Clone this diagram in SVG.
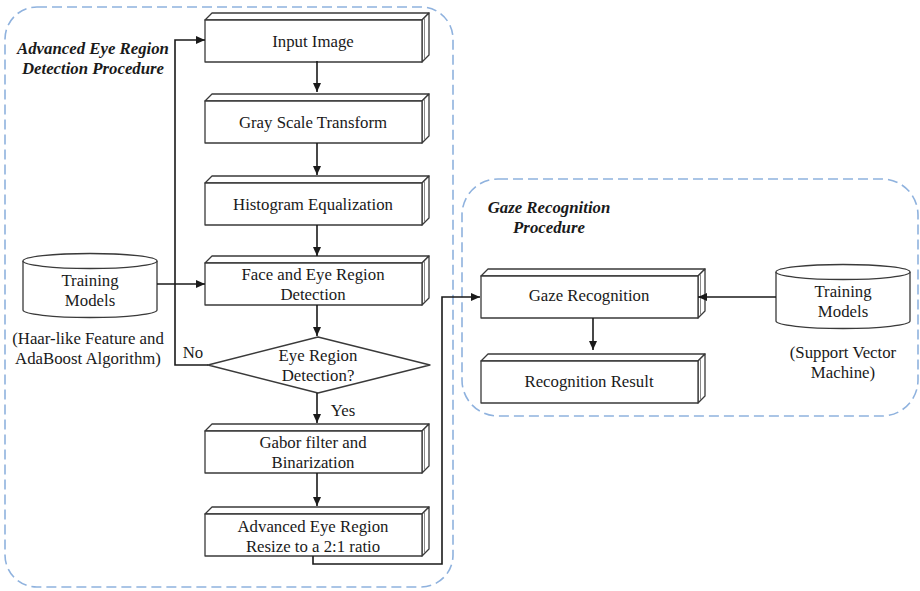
<svg xmlns="http://www.w3.org/2000/svg" width="920" height="591" viewBox="0 0 920 591">
  <style>
    .frame { fill: none; stroke: #8fb2de; stroke-width: 1.6; stroke-dasharray: 10 5; }
    .face { fill: #ffffff; stroke: #3a3a3a; stroke-width: 1.3; stroke-linejoin: round; }
    .edge { fill: none; stroke: #8a8a8a; stroke-width: 1; }
    .wire { fill: none; stroke: #1a1a1a; stroke-width: 1.6; }
    .t { font-family: 'Liberation Serif', 'DejaVu Serif', serif; font-size: 16.8px; fill: #1a1a1a; text-anchor: middle; }
    .title { font-weight: bold; font-style: italic; }
  </style>
  <defs>
    <marker id="head" viewBox="0 0 10 10" refX="10" refY="5" markerWidth="9" markerHeight="8" markerUnits="userSpaceOnUse" orient="auto" preserveAspectRatio="none">
      <path d="M0,0 L10,5 L0,10 z" fill="#1a1a1a"/>
    </marker>
    <!-- 3D block: front face 217x42, depth 7 -->
    <g id="block">
      <path class="face" d="M0,0 L7,-7 L224,-7 L217,0 Z"/>
      <path class="face" d="M217,0 L224,-7 L224,35 L217,42 Z"/>
      <path class="edge" d="M219.5,-2 L219.5,39"/>
      <rect class="face" x="0" y="0" width="217" height="42"/>
    </g>
    <!-- cylinder: width 134 -->
    <g id="drum">
      <path class="face" d="M0,0 L0,49 A67,7.5 0 0 0 134,49 L134,0"/>
      <ellipse class="face" cx="67" cy="0" rx="67" ry="7.5"/>
    </g>
  </defs>

  <!-- procedure frames -->
  <g id="frame-detection">
    <rect class="frame" x="5" y="7" width="448" height="580" rx="32" ry="32"/>
    <text class="t title" x="93" y="54">Advanced Eye Region</text>
    <text class="t title" x="93" y="74">Detection Procedure</text>
  </g>
  <g id="frame-gaze">
    <rect class="frame" x="462" y="179" width="456" height="237" rx="36" ry="36"/>
    <text class="t title" x="549" y="213">Gaze Recognition</text>
    <text class="t title" x="549" y="233">Procedure</text>
  </g>

  <!-- detection steps -->
  <g id="input-image">
    <use href="#block" x="205" y="20"/>
    <text class="t" x="313" y="47">Input Image</text>
  </g>
  <g id="gray-scale">
    <use href="#block" x="205" y="101"/>
    <text class="t" x="313" y="128">Gray Scale Transform</text>
  </g>
  <g id="histogram">
    <use href="#block" x="205" y="183"/>
    <text class="t" x="313" y="210">Histogram Equalization</text>
  </g>
  <g id="face-eye">
    <use href="#block" x="205" y="263"/>
    <text class="t" x="313" y="280">Face and Eye Region</text>
    <text class="t" x="313" y="300">Detection</text>
  </g>
  <g id="eye-check">
    <path class="face" d="M318,337 L430,365 L318,393 L208,365 Z"/>
    <text class="t" x="318" y="361">Eye Region</text>
    <text class="t" x="318" y="381">Detection?</text>
  </g>
  <g id="gabor">
    <use href="#block" x="205" y="431"/>
    <text class="t" x="313" y="448">Gabor filter and</text>
    <text class="t" x="313" y="468">Binarization</text>
  </g>
  <g id="resize">
    <use href="#block" x="205" y="514"/>
    <text class="t" x="313" y="532">Advanced Eye Region</text>
    <text class="t" x="313" y="552">Resize to a 2:1 ratio</text>
  </g>
  <g id="haar-models">
    <use href="#drum" x="23" y="261"/>
    <text class="t" x="90" y="286">Training</text>
    <text class="t" x="90" y="306">Models</text>
    <text class="t" x="88" y="344">(Haar-like Feature and</text>
    <text class="t" x="88" y="364">AdaBoost Algorithm)</text>
  </g>

  <!-- gaze steps -->
  <g id="gaze-recognition">
    <use href="#block" x="481" y="276"/>
    <text class="t" x="589" y="301">Gaze Recognition</text>
  </g>
  <g id="recognition-result">
    <use href="#block" x="481" y="361"/>
    <text class="t" x="589" y="387">Recognition Result</text>
  </g>
  <g id="svm-models">
    <use href="#drum" x="776" y="272"/>
    <text class="t" x="843" y="297">Training</text>
    <text class="t" x="843" y="317">Models</text>
    <text class="t" x="843" y="358">(Support Vector</text>
    <text class="t" x="843" y="378">Machine)</text>
  </g>

  <!-- connectors -->
  <g id="connectors">
    <line class="wire" x1="317" y1="61" x2="317" y2="92" marker-end="url(#head)"/>
    <line class="wire" x1="317" y1="143" x2="317" y2="175" marker-end="url(#head)"/>
    <line class="wire" x1="317" y1="225" x2="317" y2="256" marker-end="url(#head)"/>
    <line class="wire" x1="317" y1="305" x2="317" y2="336" marker-end="url(#head)"/>
    <line class="wire" x1="317" y1="393" x2="317" y2="423" marker-end="url(#head)"/>
    <line class="wire" x1="317" y1="473" x2="317" y2="506" marker-end="url(#head)"/>
    <line class="wire" x1="157" y1="284" x2="205" y2="284" marker-end="url(#head)"/>
    <polyline class="wire" points="208,365 175,365 175,40 205,40" marker-end="url(#head)"/>
    <polyline class="wire" points="313,556 313,564 442,564 442,297 480,297" marker-end="url(#head)"/>
    <line class="wire" x1="593" y1="318" x2="593" y2="350" marker-end="url(#head)"/>
    <line class="wire" x1="776" y1="297" x2="698" y2="297" marker-end="url(#head)"/>
    <text class="t" x="193" y="358">No</text>
    <text class="t" x="343" y="416">Yes</text>
  </g>
</svg>
